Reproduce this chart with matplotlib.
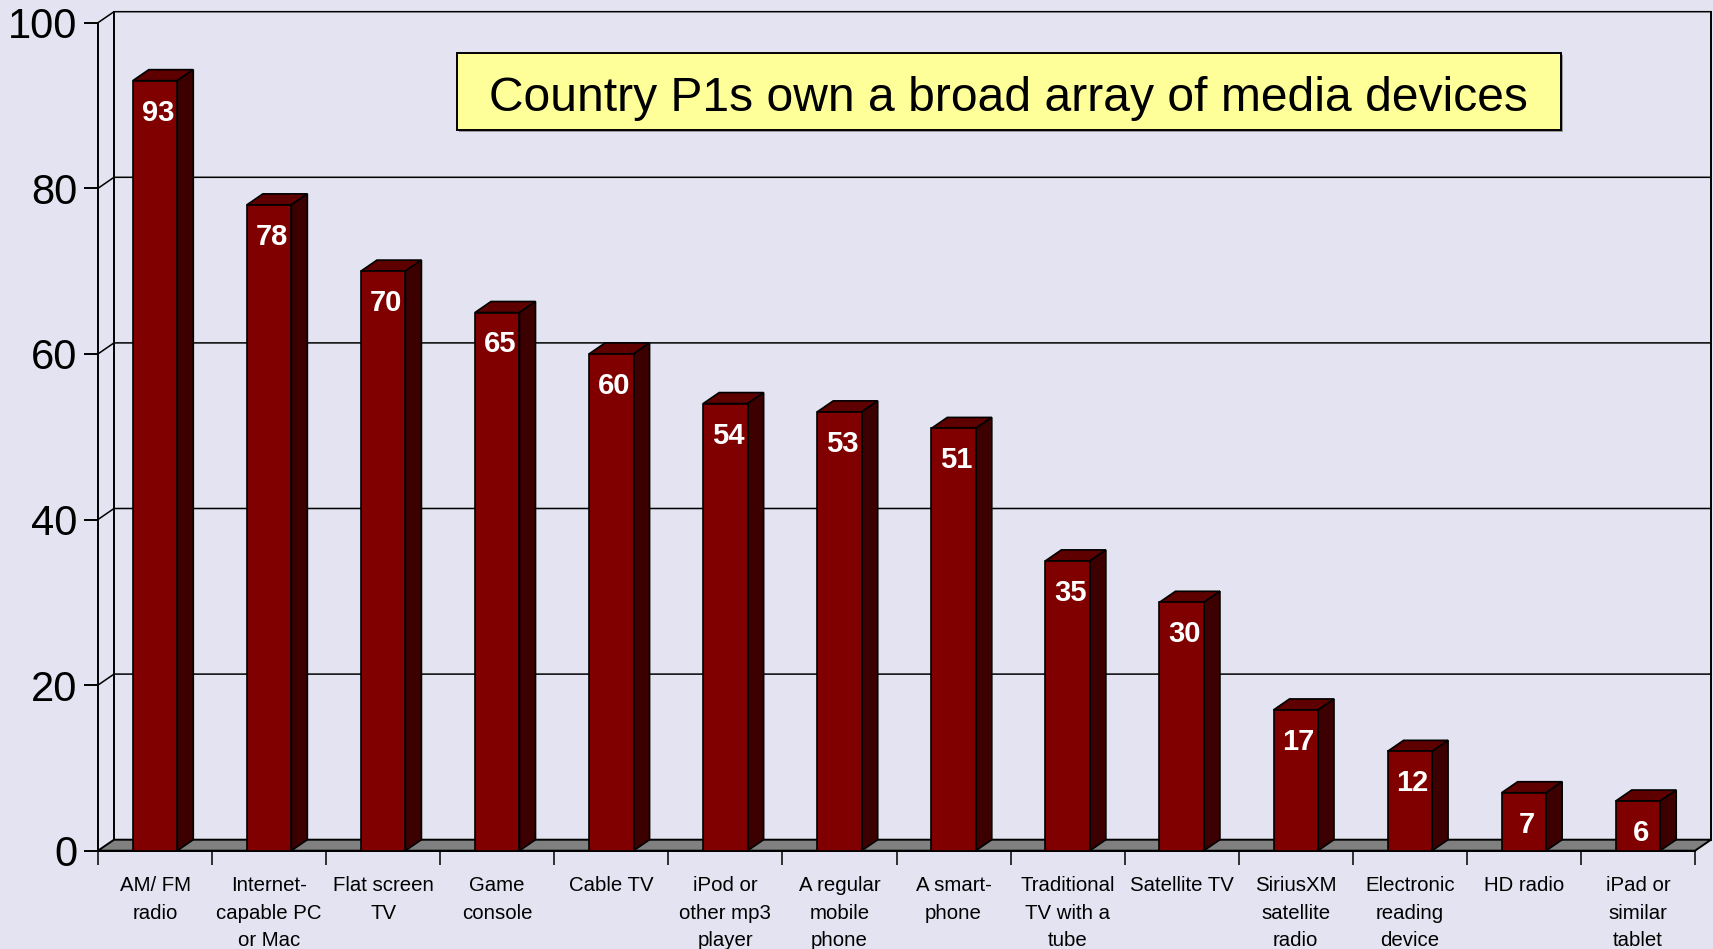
import matplotlib
matplotlib.use('Agg')
import matplotlib.pyplot as plt
from matplotlib.patches import Polygon, Rectangle
import numpy as np

# === 字體 ===
plt.rcParams['font.family'] = ['Liberation Sans', 'DejaVu Sans']

# === 資料 ===
categories = [
    "AM/ FM\nradio", "Internet-\ncapable PC\nor Mac", "Flat screen\nTV",
    "Game\nconsole", "Cable TV", "iPod or\nother mp3\nplayer",
    "A regular\nmobile\nphone", "A smart-\nphone", "Traditional\nTV with a\ntube",
    "Satellite TV", "SiriusXM\nsatellite\nradio", "Electronic\nreading\ndevice",
    "HD radio", "iPad or\nsimilar\ntablet",
]
values = [93, 78, 70, 65, 60, 54, 53, 51, 35, 30, 17, 12, 7, 6]
yticks = [0, 20, 40, 60, 80, 100]
title = "Country P1s own a broad array of media devices"

# === 樣式 ===
BG = '#E3E3F1'
FRONT = '#800000'
TOP = '#5E0000'
SIDE = '#3C0000'
FLOOR = '#808080'
DX, DY = 16, 11   # 3D depth offset (pixels)
BAR_W = 0.39
LW = 1.4

fig = plt.figure(figsize=(17.13, 9.49), dpi=100, facecolor=BG)
ax = fig.add_axes([98 / 1713, (949 - 850.7) / 949, 1597 / 1713, 828 / 949])
ax.set_facecolor('none')

n = len(values)
x = np.arange(n)
ax.set_xlim(-0.5, n - 0.5)
ax.set_ylim(0, 100)

# depth offset converted to data units
p = ax.transData.inverted().transform([(0, 0), (DX, DY)])
ddx, ddy = p[1] - p[0]

# back wall + gridlines
x0, x1 = -0.5, n - 0.5
for y in yticks[1:]:
    ax.plot([x0, x0 + ddx, x1 + ddx], [y, y + ddy, y + ddy],
            color='black', lw=1.1, zorder=1, clip_on=False)
ax.plot([x0 + ddx, x0 + ddx], [ddy, 100 + ddy], color='black', lw=LW, zorder=1, clip_on=False)
ax.plot([x1 + ddx, x1 + ddx], [ddy, 100 + ddy], color='black', lw=LW, zorder=1, clip_on=False)

# floor
ax.add_patch(Polygon([(x0, 0), (x1, 0), (x1 + ddx, ddy), (x0 + ddx, ddy)],
                     closed=True, facecolor=FLOOR, edgecolor='black', lw=LW,
                     zorder=2, clip_on=False))

# bars
for xi, v in zip(x, values):
    l, r = xi - BAR_W / 2, xi + BAR_W / 2
    ax.add_patch(Polygon([(l, v), (r, v), (r + ddx, v + ddy), (l + ddx, v + ddy)],
                         closed=True, facecolor=TOP, edgecolor='black', lw=1.2,
                         zorder=3, clip_on=False))
    ax.add_patch(Polygon([(r, 0), (r + ddx, ddy), (r + ddx, v + ddy), (r, v)],
                         closed=True, facecolor=SIDE, edgecolor='black', lw=1.2,
                         zorder=3, clip_on=False))
ax.bar(x, values, width=BAR_W, color=FRONT, edgecolor='black', lw=1.2, zorder=4)

for xi, v in zip(x, values):
    ax.annotate(str(v), (xi, v), xytext=(2, -23), textcoords='offset points',
                ha='center', va='center', color='white', fontsize=21,
                fontweight='bold', zorder=5)

# axes
for s in ['top', 'right']:
    ax.spines[s].set_visible(False)
ax.spines['left'].set_linewidth(LW)
ax.spines['bottom'].set_linewidth(LW)
ax.set_yticks(yticks)
ax.tick_params(axis='y', length=10, width=LW, pad=5, labelsize=30, direction='out')
ax.set_xticks(np.arange(n + 1) - 0.5)
ax.set_xticklabels([])
ax.tick_params(axis='x', which='major', length=10, width=1.1, direction='out')
ax.set_xticks(x, minor=True)
ax.set_xticklabels(categories, minor=True, fontsize=14.7, linespacing=1.55)
ax.tick_params(axis='x', which='minor', length=0, pad=18.5)

# title box
bl, br, bt, bb = 456.7 / 1713, 1561 / 1713, 1 - 52.7 / 949, 1 - 130 / 949
fig.patches.append(Rectangle((bl + 2 / 1713, bb - 2 / 949), br - bl, bt - bb,
                             transform=fig.transFigure, facecolor='#9a9a9a',
                             edgecolor='none', zorder=5))
fig.patches.append(Rectangle((bl, bb), br - bl, bt - bb, transform=fig.transFigure,
                             facecolor='#FFFF99', edgecolor='black', lw=1.4, zorder=6))
fig.text((bl + br) / 2, 1 - 111 / 949, title, ha='center', va='baseline',
         fontsize=34.6, zorder=7)

fig.savefig('out.png', dpi=100, facecolor=BG)
